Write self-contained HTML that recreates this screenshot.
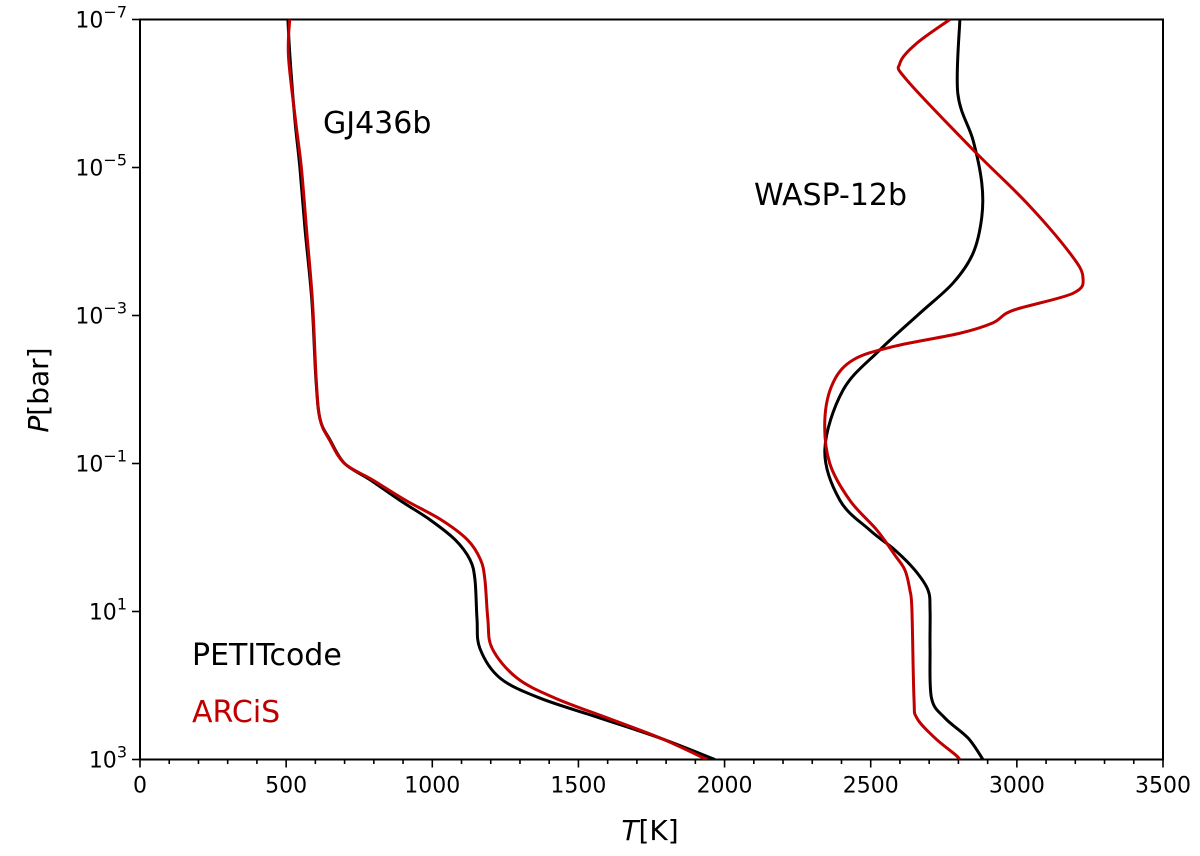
<!DOCTYPE html>
<html><head><meta charset="utf-8"><style>
body{margin:0;background:#fff;}
svg{display:block;font-family:"DejaVu Sans","Liberation Sans",sans-serif;}
</style></head><body>
<svg id="chart" width="1200" height="856">
<g id="axes"></g><g id="lines"></g>
<text x="323" y="133" font-size="30">GJ436b</text>
<text x="754" y="205" font-size="30">WASP-12b</text>
<text x="192" y="665" font-size="30" fill="#000">PETITcode</text>
<text x="192" y="722" font-size="30" fill="#c00000">ARCiS</text>
<text transform="translate(48,390) rotate(-90)" text-anchor="middle" font-size="28"><tspan font-style="italic">P</tspan>[bar]</text>
<text x="650" y="840" text-anchor="middle" font-size="28"><tspan font-style="italic">T</tspan>[K]</text>
</svg>
<script>
const xTicks=[0,500,1000,1500,2000,2500,3000,3500];
const yTicks=[-7,-5,-3,-1,1,3];
const gjLogP=[-7,-6.5,-5.64,-5,-4.15,-3.2,-2.13,-1.6,-1.32,-1,-0.78,-0.5,-0.24,0.03,0.3,0.57,1.1,1.5,1.9,2.17,2.44,2.71,3];
const gjBlackT=[506,513,530,547,565,588,602,616,650,700,787,890,992,1078,1129,1146,1153,1163,1232,1368,1574,1779,1967];
const gjRedT=[512,508,532,552,570,590,603,616,648,700,795,910,1030,1120,1165,1180,1190,1205,1290,1420,1600,1780,1940];
const waspBlackLogP=[-7,-6,-5.37,-4.79,-4.33,-3.84,-3.44,-3.03,-2.53,-1.99,-1.18,-0.5,-0.1,0.17,0.44,0.71,0.98,1.5,2.17,2.44,2.71,3];
const waspBlackT=[2805,2798,2850,2880,2880,2850,2782,2668,2530,2405,2343,2395,2497,2583,2651,2696,2703,2703,2708,2754,2833,2884];
const waspRedLogP=[-7,-6.68,-6.41,-6.18,-5.24,-4.52,-3.84,-3.52,-3.3,-3.07,-2.9,-2.76,-2.58,-2.4,-2.09,-1.59,-1,-0.5,-0.1,0.24,0.44,0.71,0.98,2.17,2.44,2.71,2.93,3];
const waspRedT=[2771,2658,2600,2624,2850,3034,3182,3226,3192,2987,2918,2805,2577,2440,2371,2343,2360,2429,2521,2583,2617,2634,2641,2648,2658,2720,2788,2805];

const L=140,R=1163,T=19.5,B=759.5;
const xs=t=>L+(t-0)/3500*(R-L);
const ys=lp=>T+(lp+7)/10*(B-T);
const NS="http://www.w3.org/2000/svg";
function mk(tag,attrs,parent){const e=document.createElementNS(NS,tag);for(const k in attrs)e.setAttribute(k,attrs[k]);parent.appendChild(e);return e;}
const axes=document.getElementById('axes');
const frame=mk('rect',{x:L,y:T,width:R-L,height:B-T,fill:'none',stroke:'#000','stroke-width':2},axes);


for(let v=0;v<=3500;v+=100){
  const major=v%500===0;
  const tk=mk('line',{x1:xs(v),x2:xs(v),y1:B,y2:B+(major?8:4.5),stroke:'#000','stroke-width':1.6},axes);
  
  
}
xTicks.forEach(v=>{
  const t=mk('text',{x:xs(v),y:B+33,'text-anchor':'middle','font-size':22},axes);t.textContent=v;
  
  
});
yTicks.forEach(v=>{
  const tk=mk('line',{x1:L-8,x2:L,y1:ys(v),y2:ys(v),stroke:'#000','stroke-width':1.6},axes);
  
  
  const t=mk('text',{x:L-13,y:ys(v)+8,'text-anchor':'end','font-size':22},axes);
  t.innerHTML='10<tspan dy="-10" font-size="16">'+(v<0?'\u2212'+(-v):v)+'</tspan>';
  
  
});
function path(lps,ts){
  const p=lps.map((lp,i)=>[xs(ts[i]),ys(lp)]);
  let d='M'+p[0][0]+','+p[0][1];
  for(let i=0;i<p.length-1;i++){
    const p0=p[i-1]||p[i],p1=p[i],p2=p[i+1],p3=p[i+2]||p2;
    const c1=[p1[0]+(p2[0]-p0[0])/6,p1[1]+(p2[1]-p0[1])/6];
    const c2=[p2[0]-(p3[0]-p1[0])/6,p2[1]-(p3[1]-p1[1])/6];
    d+=' C'+c1+' '+c2+' '+p2;
  }
  return d;
}
const lines=document.getElementById('lines');
const cp=mk('clipPath',{id:'clip'},lines);mk('rect',{x:L,y:T,width:R-L,height:B-T},cp);
const series=[[gjLogP,gjBlackT,'#000','gj436b-petitcode-line'],[gjLogP,gjRedT,'#c00000','gj436b-arcis-line'],[waspBlackLogP,waspBlackT,'#000','wasp12b-petitcode-line'],[waspRedLogP,waspRedT,'#c00000','wasp12b-arcis-line']];
series.forEach(s=>{
  const e=mk('path',{d:path(s[0],s[1]),fill:'none',stroke:s[2],'stroke-width':3,'stroke-linejoin':'round','clip-path':'url(#clip)'},lines);
  
  
});
</script>
</body></html>
